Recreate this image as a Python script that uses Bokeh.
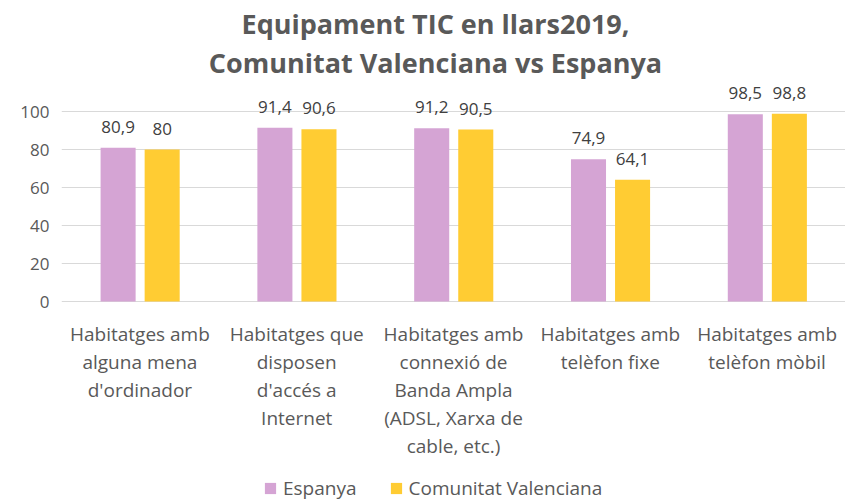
from bokeh.plotting import figure
from bokeh.models import (ColumnDataSource, LabelSet, Label, Legend, LegendItem,
                          FixedTicker, Range1d, FactorRange)
from bokeh.transform import dodge
from bokeh.core.properties import value
from bokeh.embed import file_html
from bokeh.resources import INLINE

categories = [
    "Habitatges amb\nalguna mena\nd'ordinador",
    "Habitatges que\ndisposen\nd'accés a\nInternet",
    "Habitatges amb\nconnexió de\nBanda Ampla\n(ADSL, Xarxa de\ncable, etc.)",
    "Habitatges amb\ntelèfon fixe",
    "Habitatges amb\ntelèfon mòbil",
]
espanya = [80.9, 91.4, 91.2, 74.9, 98.5]
comunitat = [80, 90.6, 90.5, 64.1, 98.8]
series_names = ["Espanya", "Comunitat Valenciana"]
y_ticks = [0, 20, 40, 60, 80, 100]
title_lines = ["Equipament TIC en llars2019,", "Comunitat Valenciana vs Espanya"]

# ---- layout constants (pixels) ----
W, H = 845, 501
LEFT = 61
ZERO_PX = 301          # figure-y of the zero line
SCALE = 1.9            # pixels per unit
Y_START = -(H - ZERO_PX) / SCALE
Y_END = ZERO_PX / SCALE

def py(px_from_top):
    """figure pixel row -> data y"""
    return (ZERO_PX - px_from_top) / SCALE

def fmt(v):
    s = ("%.1f" % v).rstrip("0").rstrip(".")
    return s.replace(".", ",")

src = ColumnDataSource(dict(
    cat=categories,
    esp=espanya,
    cv=comunitat,
    esp_lbl=[fmt(v) for v in espanya],
    cv_lbl=[fmt(v) for v in comunitat],
))

PINK = "#D5A4D4"
YELLOW = "#FFCC33"
GREY = "#595959"
FONT = "Open Sans"

p = figure(width=W, height=H, x_range=FactorRange(*categories), y_range=Range1d(Y_START, Y_END),
           output_backend="svg", toolbar_location=None,
           min_border_left=LEFT, min_border_right=0, min_border_top=0, min_border_bottom=0)
p.outline_line_color = None
p.background_fill_color = "white"
p.border_fill_color = "white"

OFF_E, OFF_C, BW = -0.139, 0.142, 0.2235
r1 = p.vbar(x=dodge("cat", OFF_E, range=p.x_range), top="esp", width=BW, source=src,
            fill_color=PINK, line_color=None)
r2 = p.vbar(x=dodge("cat", OFF_C, range=p.x_range), top="cv", width=BW, source=src,
            fill_color=YELLOW, line_color=None)

for col, ycol, off in (("esp_lbl", "esp", OFF_E), ("cv_lbl", "cv", OFF_C)):
    p.add_layout(LabelSet(x=dodge("cat", off, range=p.x_range), y=ycol, text=col, source=src,
                          text_align="center", text_baseline="bottom", y_offset=15,
                          text_font=value(FONT), text_font_size="17px", text_color="#404040"))

# category labels (one row per line of each label)
lx, ly, lt = [], [], []
for c in categories:
    for i, line in enumerate(c.split("\n")):
        lx.append(c)
        ly.append(py(ZERO_PX + 32 + 28 * i))
        lt.append(line)
p.text(x=lx, y=ly, text=lt, text_align="center", text_baseline="middle",
       text_font=value(FONT), text_font_size="19px", text_color=GREY)

# axes
p.xaxis.visible = False
p.yaxis.ticker = FixedTicker(ticks=y_ticks)
p.yaxis.axis_line_color = None
p.yaxis.major_tick_line_color = None
p.yaxis.minor_tick_line_color = None
p.yaxis.major_tick_out = 0
p.yaxis.major_tick_in = 0
p.yaxis.major_label_text_font = FONT
p.yaxis.major_label_text_font_size = "17px"
p.yaxis.major_label_text_color = GREY
p.yaxis.major_label_standoff = 12

p.xgrid.grid_line_color = None
p.ygrid.grid_line_color = "#D9D9D9"
p.ygrid.grid_line_width = 1

# title
TX = (435 - LEFT) / (W - LEFT) * len(categories)
p.add_layout(Label(x=TX, y=py(23), text=title_lines[0], text_align="center", text_baseline="middle",
                   text_font=FONT, text_font_style="bold", text_font_size="27px", text_color=GREY))
p.add_layout(Label(x=TX, y=py(62), text=title_lines[1], text_align="center", text_baseline="middle",
                   text_font=FONT, text_font_style="bold", text_font_size="27px", text_color=GREY))

legend = Legend(items=[LegendItem(label=series_names[0], renderers=[r1]),
                       LegendItem(label=series_names[1], renderers=[r2])],
                location=(202, 0), orientation="horizontal",
                glyph_width=14, glyph_height=14, label_standoff=6, spacing=32,
                padding=0, margin=0, border_line_color=None, background_fill_alpha=0,
                label_text_font=FONT, label_text_font_size="19px", label_text_color=GREY)
p.add_layout(legend, "center")

open("out.html", "w").write(file_html(p, INLINE))
